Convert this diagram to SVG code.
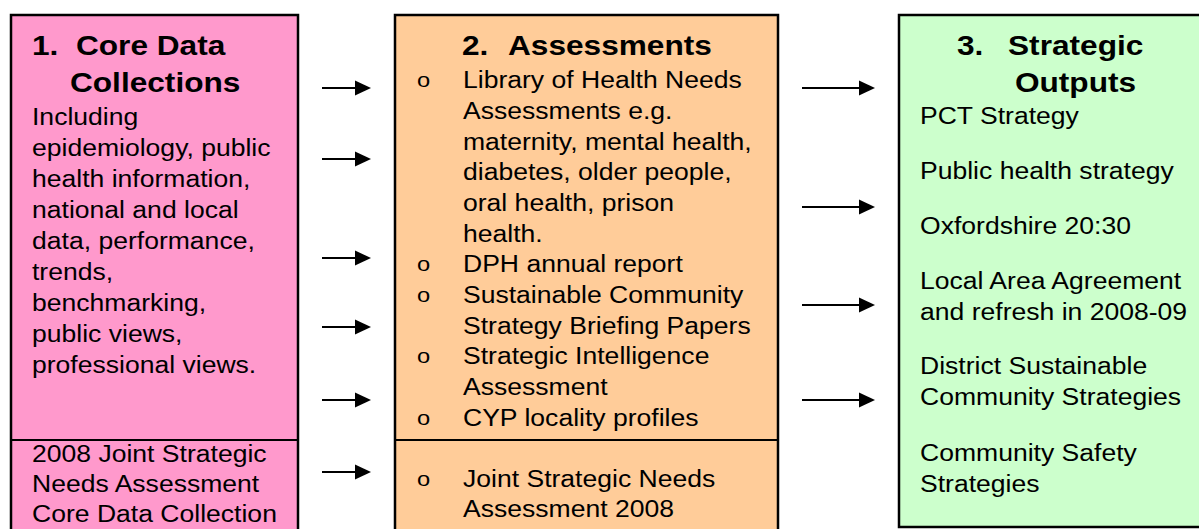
<svg xmlns="http://www.w3.org/2000/svg" width="1199" height="529" viewBox="0 0 1199 529">
  <defs>
    <style>
      .box { stroke: #000; stroke-width: 2.5; }
      .pink { fill: #FF99CC; }
      .peach { fill: #FFCC99; }
      .green { fill: #CCFFCC; }
      .div { stroke: #000; stroke-width: 2; }
      .title { font-family: "Liberation Sans", Arial, sans-serif; font-weight: bold; font-size: 28px; fill: #000; }
      .body { font-family: "Liberation Sans", Arial, sans-serif; font-size: 23.5px; fill: #000; }
      .bullet { font-family: "Liberation Sans", Arial, sans-serif; font-size: 21px; fill: #000; }
      .conn line { stroke: #000; stroke-width: 2; }
      .conn polygon { fill: #000; }
    </style>
  </defs>
  <rect width="1199" height="529" fill="#fff"/>

  <!-- Column 1: core data collections -->
  <g id="core-data">
    <rect class="box pink" x="11" y="15" width="287" height="530"/>
    <line class="div" x1="11" y1="440" x2="298" y2="440"/>
    <g transform="translate(32 0) scale(1.13 1)">
      <text class="title" x="0" y="55">1.</text>
      <text class="title" x="38.9" y="55">Core Data</text>
      <text class="title" x="33.6" y="92">Collections</text>
      <text class="body">
        <tspan x="0" y="125">Including</tspan>
        <tspan x="0" y="156">epidemiology, public</tspan>
        <tspan x="0" y="187">health information,</tspan>
        <tspan x="0" y="218">national and local</tspan>
        <tspan x="0" y="249">data, performance,</tspan>
        <tspan x="0" y="280">trends,</tspan>
        <tspan x="0" y="311">benchmarking,</tspan>
        <tspan x="0" y="342">public views,</tspan>
        <tspan x="0" y="373">professional views.</tspan>
      </text>
      <text class="body">
        <tspan x="0" y="462">2008 Joint Strategic</tspan>
        <tspan x="0" y="492">Needs Assessment</tspan>
        <tspan x="0" y="522">Core Data Collection</tspan>
      </text>
    </g>
  </g>

  <!-- Column 2: assessments -->
  <g id="assessments">
    <rect class="box peach" x="395" y="15" width="383" height="530"/>
    <line class="div" x1="395" y1="440" x2="778" y2="440"/>
    <g transform="translate(417 0) scale(1.13 1)">
      <text class="title" x="39.8" y="55">2.</text>
      <text class="title" x="80.5" y="55">Assessments</text>
      <text class="bullet">
        <tspan x="0" y="87">o</tspan>
        <tspan x="0" y="271">o</tspan>
        <tspan x="0" y="302">o</tspan>
        <tspan x="0" y="363">o</tspan>
        <tspan x="0" y="425">o</tspan>
        <tspan x="0" y="486">o</tspan>
      </text>
      <text class="body">
        <tspan x="40.7" y="88">Library of Health Needs</tspan>
        <tspan x="40.7" y="119">Assessments e.g.</tspan>
        <tspan x="40.7" y="150">maternity, mental health,</tspan>
        <tspan x="40.7" y="180">diabetes, older people,</tspan>
        <tspan x="40.7" y="211">oral health, prison</tspan>
        <tspan x="40.7" y="242">health.</tspan>
        <tspan x="40.7" y="272">DPH annual report</tspan>
        <tspan x="40.7" y="303">Sustainable Community</tspan>
        <tspan x="40.7" y="334">Strategy Briefing Papers</tspan>
        <tspan x="40.7" y="364">Strategic Intelligence</tspan>
        <tspan x="40.7" y="395">Assessment</tspan>
        <tspan x="40.7" y="426">CYP locality profiles</tspan>
      </text>
      <text class="body">
        <tspan x="40.7" y="487">Joint Strategic Needs</tspan>
        <tspan x="40.7" y="517">Assessment 2008</tspan>
      </text>
    </g>
  </g>

  <!-- Column 3: strategic outputs -->
  <g id="strategic-outputs">
    <rect class="box green" x="899" y="15" width="310" height="512"/>
    <g transform="translate(920 0) scale(1.13 1)">
      <text class="title" x="32.7" y="55">3.</text>
      <text class="title" x="77.9" y="55">Strategic</text>
      <text class="title" x="84" y="92">Outputs</text>
      <text class="body">
        <tspan x="0" y="124">PCT Strategy</tspan>
        <tspan x="0" y="179">Public health strategy</tspan>
        <tspan x="0" y="234">Oxfordshire 20:30</tspan>
        <tspan x="0" y="289">Local Area Agreement</tspan>
        <tspan x="0" y="320">and refresh in 2008-09</tspan>
        <tspan x="0" y="374">District Sustainable</tspan>
        <tspan x="0" y="405">Community Strategies</tspan>
        <tspan x="0" y="461">Community Safety</tspan>
        <tspan x="0" y="492">Strategies</tspan>
      </text>
    </g>
  </g>

  <!-- Flow arrows between columns -->
  <g id="connectors" class="conn">
    <line x1="322" y1="88" x2="358" y2="88"/><polygon points="355,80.5 371,88 355,95.5"/>
    <line x1="322" y1="159" x2="358" y2="159"/><polygon points="355,151.5 371,159 355,166.5"/>
    <line x1="322" y1="258" x2="358" y2="258"/><polygon points="355,250.5 371,258 355,265.5"/>
    <line x1="322" y1="327" x2="358" y2="327"/><polygon points="355,319.5 371,327 355,334.5"/>
    <line x1="322" y1="400" x2="358" y2="400"/><polygon points="355,392.5 371,400 355,407.5"/>
    <line x1="322" y1="472" x2="358" y2="472"/><polygon points="355,464.5 371,472 355,479.5"/>
    <line x1="802" y1="88" x2="862" y2="88"/><polygon points="859,80.5 875,88 859,95.5"/>
    <line x1="802" y1="207" x2="862" y2="207"/><polygon points="859,199.5 875,207 859,214.5"/>
    <line x1="802" y1="305" x2="862" y2="305"/><polygon points="859,297.5 875,305 859,312.5"/>
    <line x1="802" y1="400" x2="862" y2="400"/><polygon points="859,392.5 875,400 859,407.5"/>
  </g>
</svg>
